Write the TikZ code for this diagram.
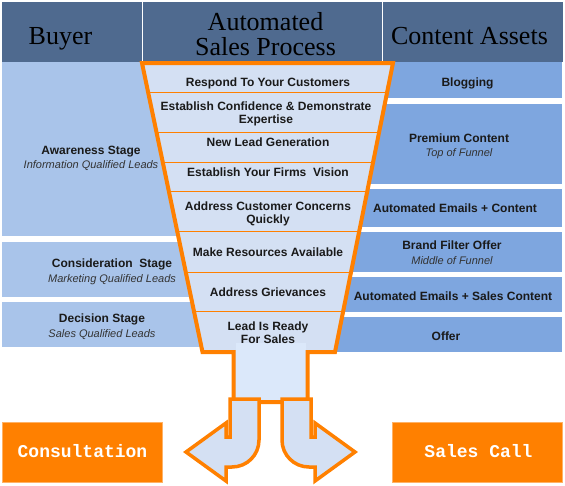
\documentclass[tikz,border=0pt]{standalone}
\usepackage{fontspec}
\setmainfont{Liberation Sans}
\newfontfamily\hdrfont{Liberation Serif}
\newfontfamily\btnfont{Liberation Mono}
\definecolor{hdrc}{HTML}{4F6A8F}
\definecolor{lboxc}{HTML}{A9C4EA}
\definecolor{rboxc}{HTML}{7EA6DF}
\definecolor{func}{HTML}{D4E0F3}
\definecolor{stemc}{HTML}{DBE8FA}
\definecolor{orng}{HTML}{FF8000}
\definecolor{obord}{HTML}{FFB266}
\definecolor{txt}{HTML}{1A1A1A}
\definecolor{subtxt}{HTML}{333333}
\begin{document}
\begin{tikzpicture}[x=1pt,y=-1pt,
  lbl/.style={font=\bfseries\fontsize{12}{13.5}\selectfont, text=txt, inner sep=0pt, align=center},
  sublbl/.style={font=\itshape\fontsize{11}{13}\selectfont, text=subtxt, inner sep=0pt},
  hdr/.style={font=\hdrfont\fontsize{26}{25}\selectfont, text=black, inner sep=0pt, align=center},
  btn/.style={font=\btnfont\bfseries\fontsize{18}{18}\selectfont, text=white, inner sep=0pt},
  divider/.style={draw=orng, line width=1pt},
  outline/.style={draw=orng, line width=4pt, line join=miter},
  bentarrow/.style={draw=orng, fill=func, line width=3.5pt, line join=miter},
  btnbox/.style={fill=orng, draw=obord, line width=0.8pt}]
\useasboundingbox (0,0) rectangle (565,485);
\fill[white] (0,0) rectangle (565,485);
% header
\fill[hdrc] (2,2) rectangle (563,62);
\draw[white, line width=1pt] (142.5,2) -- (142.5,64);
\draw[white, line width=1pt] (382.5,2) -- (382.5,64);
\node[hdr, anchor=base] (hbuyer) at (60.5,44) {Buyer};
\node[hdr] (hproc) at (265.5,34.5) {Automated\\Sales Process};
\node[hdr, anchor=base] (hassets) at (469.5,44) {Content Assets};
% left boxes
\fill[lboxc] (2,62) rectangle (180,236);
\fill[lboxc] (2,242) rectangle (222,297);
\fill[lboxc] (2,302) rectangle (203,347);
% right boxes
\fill[rboxc] (373,62) rectangle (562,98);
\fill[rboxc] (356,104) rectangle (562,184);
\fill[rboxc] (347,189) rectangle (562,227);
\fill[rboxc] (342,232) rectangle (562,272);
\fill[rboxc] (344,277) rectangle (562,312);
\fill[rboxc] (330,317) rectangle (562,352);
% funnel fill
\fill[func] (142,63) -- (393,63) -- (335,352) -- (307.5,352) -- (307.5,402) -- (233.5,402) -- (233.5,352) -- (202.5,352) -- cycle;
\begin{scope}
  \clip (142,63) -- (393,63) -- (335,352) -- (202.5,352) -- cycle;
  \foreach \yy in {92,132,162,191,231.5,272,311}
    \draw[divider] (120,\yy) -- (420,\yy);
\end{scope}
\fill[stemc] (235.5,343) rectangle (305.5,402);
\draw[outline] (142,63) -- (393,63) -- (335,352) -- (307.5,352) -- (307.5,402) -- (233.5,402) -- (233.5,352) -- (202.5,352) -- cycle;
% funnel labels
\node[lbl, anchor=base] (f1) at (268,86.5) {Respond To Your Customers};
\node[lbl] (f2) at (266,114) {Establish Confidence \& Demonstrate\\Expertise};
\node[lbl, anchor=base] (f3) at (268,146.5) {New Lead Generation};
\node[lbl, anchor=base] (f4) at (268,176.5) {Establish Your Firms\ \ Vision};
\node[lbl] (f5) at (268,214) {Address Customer Concerns\\Quickly};
\node[lbl, anchor=base] (f6) at (268,256.5) {Make Resources Available};
\node[lbl, anchor=base] (f7) at (268,296.5) {Address Grievances};
\node[lbl] (f8) at (268,332.7) {Lead Is Ready\\For Sales};
% left labels
\node[lbl, anchor=base] (aw) at (91,154.5) {Awareness Stage};
\node[sublbl, anchor=base] (awsub) at (91,168) {Information Qualified Leads};
\node[lbl, anchor=base] (co) at (112,267.5) {Consideration\ \ Stage};
\node[sublbl, anchor=base] (cosub) at (112,282) {Marketing Qualified Leads};
\node[lbl, anchor=base] (de) at (102,322.5) {Decision Stage};
\node[sublbl, anchor=base] (desub) at (102,337) {Sales Qualified Leads};
% right labels
\node[lbl, anchor=base] (r1) at (467.5,86.5) {Blogging};
\node[lbl, anchor=base] (r2) at (459,142.5) {Premium Content};
\node[sublbl, anchor=base] (r2sub) at (459,156) {Top of Funnel};
\node[lbl, anchor=base] (r3) at (455,212.5) {Automated Emails + Content};
\node[lbl, anchor=base] (r4) at (452,249.5) {Brand Filter Offer};
\node[sublbl, anchor=base] (r4sub) at (452,264) {Middle of Funnel};
\node[lbl, anchor=base] (r5) at (453,300.5) {Automated Emails + Sales Content};
\node[lbl, anchor=base] (r6) at (446,340.5) {Offer};
% bent arrows
\draw[bentarrow] (230,399) -- (259,399) -- (259,440) .. controls (259,455) and (247,467) .. (232,467) -- (226,467) -- (226,481) -- (186,452) -- (226,423) -- (226,437) -- (230,437) -- cycle;
\draw[bentarrow] (311,399) -- (282,399) -- (282,440) .. controls (282,455) and (294,467) .. (309,467) -- (315,467) -- (315,481) -- (355,452) -- (315,423) -- (315,437) -- (311,437) -- cycle;
% bottom boxes
\fill[btnbox] (2.5,422.5) rectangle (162.5,482.5);
\draw[obord, line width=0.8pt] (2.5,422.5) rectangle (162.5,482.5);
\fill[btnbox] (392.5,422.5) rectangle (562.5,482.5);
\draw[obord, line width=0.8pt] (392.5,422.5) rectangle (562.5,482.5);
\node[btn, anchor=base] (consult) at (82.5,457.5) {Consultation};
\node[btn, anchor=base] (salescall) at (478.5,457.5) {Sales Call};
\end{tikzpicture}
\end{document}
